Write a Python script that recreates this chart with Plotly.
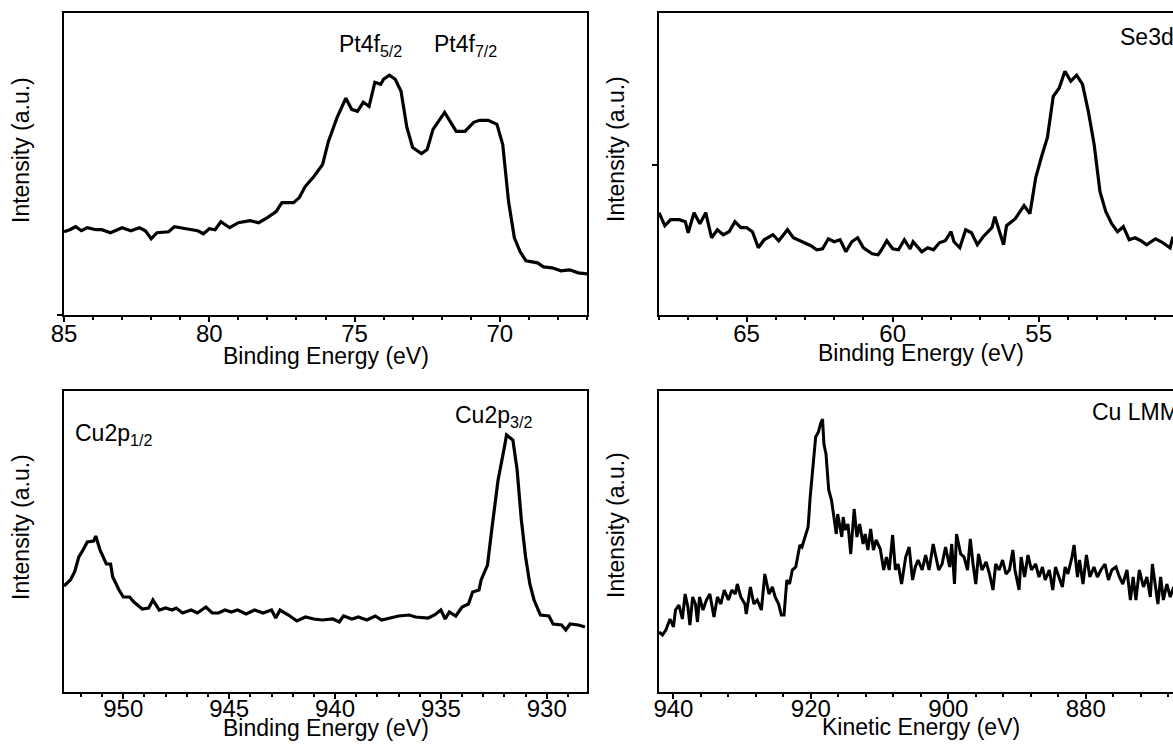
import plotly.graph_objects as go

# ---------------- data ----------------
# Pt 4f (top-left)
pt_energy = [85.0, 84.8, 84.6, 84.4, 84.2, 83.9, 83.7, 83.4, 83.0, 82.7, 82.4, 82.2, 82.0, 81.8, 81.4,
             81.2, 80.8, 80.4, 80.2, 80.0, 79.8, 79.6, 79.3, 79.0, 78.6, 78.3, 78.0, 77.7, 77.5, 77.1,
             76.9, 76.7, 76.4, 76.1, 75.9, 75.6, 75.3, 75.1, 74.9, 74.7, 74.5, 74.3, 74.1, 74.0, 73.8,
             73.6, 73.4, 73.2, 73.0, 72.7, 72.5, 72.3, 71.9, 71.7, 71.5, 71.2, 70.9, 70.7, 70.4, 70.1,
             69.9, 69.7, 69.5, 69.3, 69.1, 68.7, 68.5, 68.2, 67.9, 67.6, 67.3, 67.0]
pt_intensity = [83, 85, 88, 84, 87, 85, 85, 82, 87, 84, 87, 84, 76, 82, 83,
                88, 86, 84, 81, 86, 85, 93, 87, 92, 94, 92, 97, 103, 112, 112,
                117, 128, 138, 150, 173, 197, 216, 205, 203, 212, 208, 232, 230, 235, 239,
                235, 223, 187, 167, 161, 165, 185, 202, 193, 183, 183, 192, 194, 194, 190,
                170, 113, 77, 63, 54, 52, 48, 47, 44, 45, 42, 41]

# Se 3d (top-right)
se_energy = [68.0, 67.8, 67.6, 67.3, 67.1, 67.0, 66.8, 66.6, 66.4, 66.2, 66.0, 65.8, 65.6, 65.4, 65.2,
             65.0, 64.8, 64.6, 64.4, 64.1, 63.9, 63.6, 63.4, 63.1, 62.8, 62.6, 62.4, 62.2, 62.0, 61.8,
             61.6, 61.4, 61.2, 61.0, 60.7, 60.5, 60.4, 60.2, 60.0, 59.8, 59.6, 59.4, 59.3, 59.0, 58.8,
             58.6, 58.4, 58.2, 58.0, 57.9, 57.7, 57.5, 57.3, 57.1, 56.9, 56.6, 56.5, 56.2, 56.1, 55.8,
             55.5, 55.3, 55.1, 54.9, 54.7, 54.5, 54.3, 54.1, 53.9, 53.7, 53.5, 53.3, 53.1, 52.9, 52.7,
             52.5, 52.3, 52.1, 51.9, 51.7, 51.5, 51.3, 51.0, 50.8, 50.5, 50.4]
se_intensity = [102, 89, 95, 95, 93, 82, 102, 91, 102, 77, 85, 80, 83, 93, 87,
                87, 83, 67, 75, 80, 74, 85, 77, 73, 69, 65, 66, 76, 73, 75,
                63, 73, 77, 67, 61, 60, 64, 74, 66, 65, 75, 66, 73, 63, 67,
                65, 72, 74, 83, 73, 67, 85, 82, 70, 78, 87, 98, 70, 89, 96,
                109, 101, 137, 158, 177, 218, 226, 243, 233, 239, 230, 203, 170, 123, 103,
                91, 83, 88, 75, 77, 74, 70, 76, 73, 67, 78]

# Cu 2p (bottom-left)
cu2p_energy = [952.8, 952.5, 952.3, 952.1, 951.9, 951.7, 951.4, 951.3, 951.1, 950.8, 950.6, 950.5,
               950.2, 950.0, 949.7, 949.5, 949.1, 948.8, 948.6, 948.3, 948.0, 947.7, 947.5, 947.2,
               946.8, 946.5, 946.1, 945.8, 945.5, 945.2, 944.9, 944.6, 944.2, 943.8, 943.4, 943.0,
               942.8, 942.6, 942.2, 941.8, 941.4, 941.0, 940.6, 940.1, 939.8, 939.6, 939.2, 938.9,
               938.5, 938.1, 937.8, 937.4, 937.0, 936.5, 936.2, 935.6, 935.3, 935.0, 934.8, 934.6,
               934.3, 934.0, 933.7, 933.5, 933.2, 933.1, 932.8, 932.6, 932.3, 932.0, 931.9, 931.6,
               931.4, 931.2, 931.0, 930.8, 930.6, 930.3, 929.9, 929.7, 929.3, 929.1, 928.9, 928.5,
               928.2]
cu2p_intensity = [106, 112, 120, 135, 142, 150, 151, 156, 142, 128, 128, 115,
                  102, 95, 95, 90, 83, 84, 92, 82, 84, 82, 84, 79,
                  82, 79, 85, 79, 79, 82, 80, 82, 78, 82, 79, 82,
                  74, 82, 77, 71, 75, 73, 72, 73, 70, 76, 73, 75,
                  72, 76, 72, 74, 76, 77, 75, 74, 77, 82, 73, 80,
                  76, 85, 88, 100, 102, 112, 127, 162, 212, 245, 257, 252,
                  222, 172, 135, 108, 92, 77, 76, 68, 67, 62, 68, 67,
                  65]

# Cu LMM (bottom-right)
lmm_energy = [942.1, 941.6, 941.1, 940.5, 940.0, 939.7, 939.2, 938.7, 938.3, 937.9,
              937.6, 937.2, 936.8, 936.5, 936.2, 935.7, 935.2, 934.7, 934.1, 933.6,
              933.1, 932.6, 932.0, 931.5, 931.0, 930.7, 930.2, 929.6, 929.4, 928.8,
              928.3, 927.8, 927.2, 926.7, 926.4, 926.1, 925.6, 925.2, 924.7, 924.3,
              923.9, 923.5, 923.1, 922.7, 922.2, 921.6, 921.3, 920.9, 920.4, 920.1,
              919.7, 919.3, 918.9, 918.6, 918.3, 918.1, 917.8, 917.4, 917.0, 916.6,
              916.3, 916.1, 915.8, 915.5, 915.3, 915.0, 914.6, 914.2, 913.9, 913.7,
              913.3, 912.9, 912.4, 912.1, 911.7, 911.3, 910.9, 910.5, 909.9, 909.4,
              909.0, 908.6, 908.1, 907.7, 907.3, 906.8, 906.2, 905.7, 905.2, 904.8,
              904.4, 903.8, 903.3, 902.8, 902.2, 901.8, 901.4, 900.9, 900.4, 899.8,
              899.5, 899.1, 898.8, 898.2, 897.7, 897.2, 896.8, 896.4, 896.0, 895.6,
              895.1, 894.5, 894.0, 893.5, 893.1, 892.6, 892.1, 891.6, 891.1, 890.6,
              890.3, 889.7, 889.4, 888.9, 888.4, 887.9, 887.3, 886.8, 886.3, 885.9,
              885.3, 884.8, 884.4, 883.9, 883.4, 883.0, 882.6, 882.0, 881.7, 881.2,
              880.9, 880.4, 879.9, 879.4, 878.8, 878.3, 877.8, 877.2, 876.7, 876.2,
              875.6, 875.1, 874.6, 874.0, 873.5, 873.1, 872.7, 872.2, 871.6, 871.1,
              870.6, 870.3, 869.9, 869.5, 869.1, 868.7, 868.2, 867.7, 867.2]
lmm_intensity = [60, 57, 62, 73, 65, 82, 87, 73, 98, 85,
                 67, 95, 88, 70, 95, 82, 92, 98, 75, 95,
                 88, 102, 92, 102, 98, 108, 95, 88, 78, 105,
                 88, 92, 82, 118, 108, 98, 105, 95, 88, 77,
                 77, 112, 108, 122, 125, 147, 145, 155, 165, 195,
                 222, 255, 260, 268, 273, 248, 238, 202, 192, 175,
                 158, 178, 168, 155, 175, 162, 168, 138, 165, 183,
                 155, 168, 148, 158, 142, 163, 142, 152, 143, 122,
                 135, 122, 157, 122, 128, 108, 135, 145, 112, 125,
                 132, 122, 137, 122, 148, 135, 122, 128, 145, 125,
                 148, 108, 158, 138, 135, 122, 153, 128, 108, 138,
                 122, 130, 118, 102, 128, 122, 132, 118, 122, 142,
                 122, 102, 135, 115, 137, 122, 128, 115, 125, 112,
                 122, 102, 125, 115, 105, 125, 118, 135, 147, 115,
                 132, 108, 137, 115, 125, 115, 122, 128, 112, 122,
                 125, 115, 108, 122, 92, 115, 92, 122, 105, 115,
                 95, 128, 108, 88, 115, 92, 108, 95, 105]

assert len(pt_energy) == len(pt_intensity)
assert len(se_energy) == len(se_intensity)
assert len(cu2p_energy) == len(cu2p_intensity)
assert len(lmm_energy) == len(lmm_intensity)

# ---------------- figure ----------------
W, H = 1173, 744
FONT = "Arial, Liberation Sans, sans-serif"
FS = 23
TICK_FS = 24


def px(x):
    return x / W


def py(y):
    return 1 - y / H


fig = go.Figure()
line = dict(color="black", width=3.2)
fig.add_trace(go.Scatter(x=pt_energy, y=pt_intensity, mode="lines", line=line, xaxis="x", yaxis="y"))
fig.add_trace(go.Scatter(x=se_energy, y=se_intensity, mode="lines", line=line, xaxis="x2", yaxis="y2"))
fig.add_trace(go.Scatter(x=cu2p_energy, y=cu2p_intensity, mode="lines", line=line, xaxis="x3", yaxis="y3"))
fig.add_trace(go.Scatter(x=lmm_energy, y=lmm_intensity, mode="lines",
                         line=dict(color="black", width=3), xaxis="x4", yaxis="y4"))


def xax(dom_x, dom_y_anchor, rng, dtick, minor_dtick, standoff):
    return dict(domain=dom_x, anchor=dom_y_anchor, range=rng, showline=True, linecolor="black",
                linewidth=2, mirror=True, ticks="outside", ticklen=5, tickwidth=2, tickcolor="black",
                dtick=dtick, tick0=0, showgrid=False, zeroline=False, automargin=False,
                ticklabelstandoff=standoff,
                tickfont=dict(family=FONT, size=TICK_FS, color="black"),
                minor=dict(ticks="outside", ticklen=3, tickwidth=1.5, tickcolor="black",
                           dtick=minor_dtick, tick0=0, showgrid=False))


def yax(dom_y, anchor, mirror, tickvals):
    return dict(domain=dom_y, anchor=anchor, range=[0, 301], showline=True, linecolor="black",
                linewidth=2, mirror=mirror, ticks="outside" if tickvals else "", ticklen=5,
                tickwidth=2, tickcolor="black", tickvals=tickvals, showticklabels=False,
                showgrid=False, zeroline=False, automargin=False)


left_x = [px(64), px(587)]
right_x = [px(659), 1.0]
top_y = [py(315), py(13)]
bot_y = [py(692), py(391)]

fig.update_layout(
    width=W, height=H, margin=dict(l=0, r=0, t=0, b=0, autoexpand=False),
    paper_bgcolor="white", plot_bgcolor="white", showlegend=False,
    xaxis=xax(left_x, "y", [85, 67], 5, 1, -9),
    yaxis=yax(top_y, "x", True, [0]),
    xaxis2=xax(right_x, "y2", [68, 50.4], 5, 1, -9),
    yaxis2=yax(top_y, "x2", False, [150]),
    xaxis3=xax(left_x, "y3", [952.8, 928.1], 5, 1, -11),
    yaxis3=yax(bot_y, "x3", True, []),
    xaxis4=xax(right_x, "y4", [942.1, 867.3], 20, 4, -11),
    yaxis4=yax(bot_y, "x4", False, []),
)

annots = []
tf = dict(family=FONT, size=FS, color="black")
# x titles
for (cx, cy, txt) in [(325.5, 356, "Binding Energy (eV)"), (920.5, 353, "Binding Energy (eV)"),
                      (326, 728, "Binding Energy (eV)"), (920.6, 727, "Kinetic Energy (eV)")]:
    annots.append(dict(x=px(cx), y=py(cy), xref="paper", yref="paper", text=txt, showarrow=False,
                       xanchor="center", yanchor="middle", font=tf))
# y titles
for (cx, cy) in [(21, 150), (616, 149), (21, 527), (616, 525)]:
    annots.append(dict(x=px(cx), y=py(cy), xref="paper", yref="paper", text="Intensity (a.u.)",
                       showarrow=False, textangle=-90, xanchor="center", yanchor="middle", font=tf))
# peak labels
for (lx, cy, txt) in [(337, 46, "Pt4f<sub>5/2</sub>"), (432, 46, "Pt4f<sub>7/2</sub>"),
                      (1118, 37, "Se3d"), (73, 434, "Cu2p<sub>1/2</sub>"),
                      (453, 417, "Cu2p<sub>3/2</sub>"), (1090, 412, "Cu LMM")]:
    annots.append(dict(x=px(lx), y=py(cy), xref="paper", yref="paper", text=txt, showarrow=False,
                       xanchor="left", yanchor="middle", font=tf))
fig.update_layout(annotations=annots)

fig.write_html("out.html")
